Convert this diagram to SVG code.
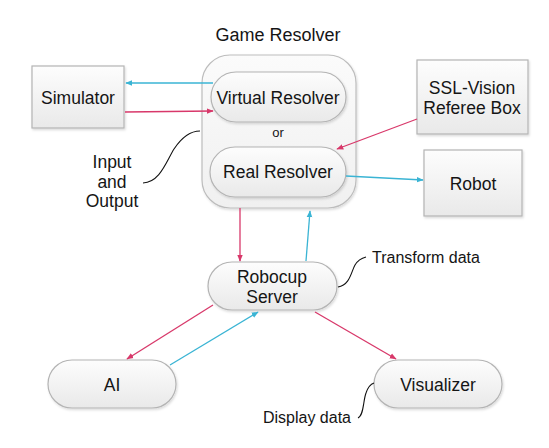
<svg xmlns="http://www.w3.org/2000/svg" width="549" height="448" viewBox="0 0 549 448">
<defs>
<linearGradient id="g" x1="0" y1="0" x2="0" y2="1">
<stop offset="0" stop-color="#fdfdfd"/>
<stop offset="1" stop-color="#e9e9e9"/>
</linearGradient>
<linearGradient id="go" x1="0" y1="0" x2="0" y2="1">
<stop offset="0" stop-color="#fbfbfb"/>
<stop offset="1" stop-color="#f0f0f0"/>
</linearGradient>
<filter id="sh" x="-10%" y="-10%" width="125%" height="130%">
<feDropShadow dx="1" dy="1.5" stdDeviation="1" flood-color="#000" flood-opacity="0.15"/>
</filter>
<marker id="ap" viewBox="0 0 10 10" refX="9" refY="5" markerWidth="7" markerHeight="7" markerUnits="userSpaceOnUse" orient="auto">
<path d="M0,1 L10,5 L0,9 z" fill="#d8386a"/>
</marker>
<marker id="ac" viewBox="0 0 10 10" refX="9" refY="5" markerWidth="7" markerHeight="7" markerUnits="userSpaceOnUse" orient="auto">
<path d="M0,1 L10,5 L0,9 z" fill="#3ab4d4"/>
</marker>
<style>
.n{fill:url(#g);stroke:#b4b4b4;stroke-width:1.2;filter:url(#sh)}
.o{fill:url(#go);stroke:#bdbdbd;stroke-width:1.2;filter:url(#sh)}
.t{font-family:"Liberation Sans",Arial,sans-serif;font-size:17.5px;fill:#151515;text-anchor:middle}
.s{font-family:"Liberation Sans",Arial,sans-serif;font-size:16px;fill:#151515}
.p{stroke:#d8386a;stroke-width:1.3;fill:none;marker-end:url(#ap)}
.c{stroke:#3ab4d4;stroke-width:1.3;fill:none;marker-end:url(#ac)}
.k{stroke:#111;stroke-width:1.1;fill:none}
</style>
</defs>
<rect width="549" height="448" fill="#fff"/>
<g id="game-resolver">
<text class="t" x="278" y="41" style="font-size:18px">Game Resolver</text>
<rect class="o" x="202" y="55" width="154" height="153" rx="28"/>
<text class="t" x="278" y="137" style="font-size:13px">or</text>
</g>
<g id="virtual-resolver">
<rect class="n" x="211" y="72" width="135" height="50" rx="25"/>
<text class="t" x="278" y="104">Virtual Resolver</text>
</g>
<g id="real-resolver">
<rect class="n" x="210" y="147" width="136" height="50" rx="25"/>
<text class="t" x="278" y="178">Real Resolver</text>
</g>
<g id="simulator">
<rect class="n" x="32" y="66" width="92" height="62"/>
<text class="t" x="78" y="104">Simulator</text>
</g>
<g id="ssl-vision">
<rect class="n" x="417" y="60" width="111" height="74"/>
<text class="t" x="472" y="94">SSL-Vision</text>
<text class="t" x="472" y="114">Referee Box</text>
</g>
<g id="robot">
<rect class="n" x="424" y="150" width="98" height="66"/>
<text class="t" x="473" y="190">Robot</text>
</g>
<g id="robocup-server">
<rect class="n" x="208" y="262" width="129" height="48" rx="24"/>
<text class="t" x="272" y="283">Robocup</text>
<text class="t" x="272" y="303">Server</text>
</g>
<g id="ai">
<rect class="n" x="48" y="360" width="128" height="48" rx="24"/>
<text class="t" x="112" y="391">AI</text>
</g>
<g id="visualizer">
<rect class="n" x="374" y="360" width="128" height="48" rx="24"/>
<text class="t" x="438" y="391">Visualizer</text>
</g>
<g id="annotations">
<text class="t" x="112" y="168">Input</text>
<text class="t" x="112" y="188">and</text>
<text class="t" x="112" y="207">Output</text>
<text class="s" x="372" y="263">Transform data</text>
<text class="s" x="351" y="423" text-anchor="end">Display data</text>
<path class="k" d="M143,183 C160,182 166,162 174,149 C182,137 190,131 200,131"/>
<path class="k" d="M338,287 C350,285 351,272 355,265 C358,260 362,258 366,257"/>
<path class="k" d="M358,418 C364,415 363,401 366,393 C368,387 371,384 374,383"/>
</g>
<g id="connectors">
<line class="c" x1="213" y1="83" x2="126" y2="83"/>
<line class="p" x1="125" y1="112" x2="213" y2="111"/>
<line class="p" x1="417" y1="119" x2="337" y2="149"/>
<line class="c" x1="346" y1="176" x2="423" y2="180"/>
<line class="p" x1="240" y1="208" x2="240" y2="261"/>
<line class="c" x1="306" y1="261" x2="310" y2="211"/>
<line class="p" x1="213" y1="305" x2="127" y2="359"/>
<line class="c" x1="170" y1="365" x2="258" y2="312"/>
<line class="p" x1="315" y1="312" x2="396" y2="359"/>
</g>
</svg>
